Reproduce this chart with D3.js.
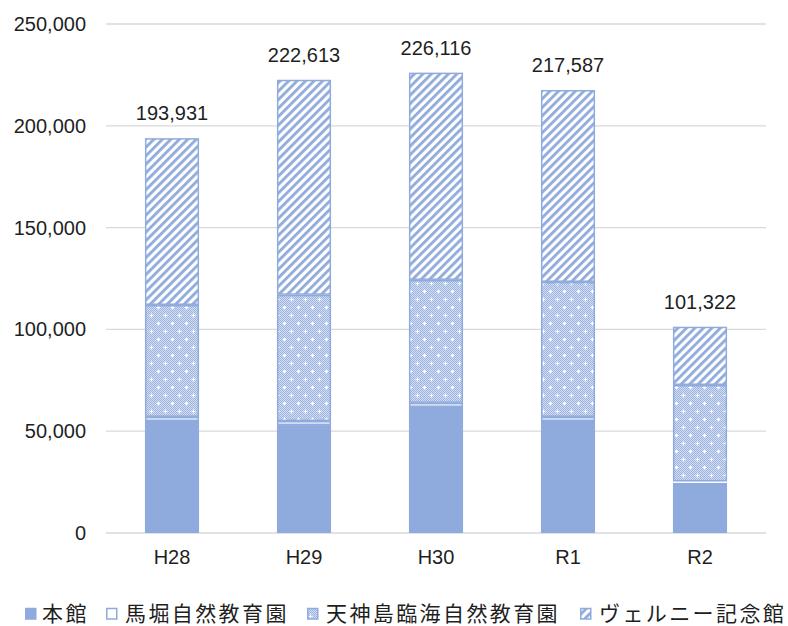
<!DOCTYPE html>
<html>
<head>
<meta charset="utf-8">
<script src="https://cdn.jsdelivr.net/npm/d3@7"></script>
<style>
  body { margin: 0; background: #fff; }
  svg text { font-family: "Liberation Sans", Arial, sans-serif; fill: #1f1f1f; }
  .legend text { font-family: "Noto Sans CJK JP", sans-serif; }
</style>
</head>
<body>
<svg id="chart" width="788" height="626"></svg>
<script>
// years and visitor counts per facility
const years = ['H28', 'H29', 'H30', 'R1', 'R2'];
const seriesNames = ['本館', '馬堀自然教育園', '天神島臨海自然教育園', 'ヴェルニー記念館'];
const honkan = [55000, 53000, 61900, 55000, 24600];
const mabori = [2000, 2000, 2000, 2000, 700];
const tenjin = [55000, 62000, 60400, 66300, 47400];
const totals = [193931, 222613, 226116, 217587, 101322];
// ヴェルニー記念館 = total minus the rest
const verny = totals.map((t, i) => t - honkan[i] - mabori[i] - tenjin[i]);
const yTicks = [0, 50000, 100000, 150000, 200000, 250000];

const svg = d3.select('#chart');
const margin = { top: 24, right: 22, bottom: 93, left: 106 };
const width = 788 - margin.left - margin.right;
const height = 626 - margin.top - margin.bottom;
const blue = '#8FAADC';

// patterns
const defs = svg.append('defs');
const stripes = defs.append('pattern').attr('id', 'stripes')
  .attr('patternUnits', 'userSpaceOnUse').attr('width', 6).attr('height', 6)
  .attr('patternTransform', 'rotate(45)');
stripes.append('rect').attr('width', 6).attr('height', 6).attr('fill', '#fff');
stripes.append('rect').attr('width', 2.8).attr('height', 6).attr('fill', blue);

const dots = defs.append('pattern').attr('id', 'dots')
  .attr('patternUnits', 'userSpaceOnUse').attr('width', 14).attr('height', 16);
dots.append('rect').attr('width', 14).attr('height', 16).attr('fill', '#D3DEF2');
for (let i = 0; i < 14; i++) {
  for (let j = 0; j < 16; j++) {
    if ((i + j) % 2 === 0) dots.append('rect').attr('x', i).attr('y', j).attr('width', 1).attr('height', 1).attr('fill', '#9DB4E0');
  }
}
dots.append('path').attr('d', 'M1.5,3.5h4M3.5,1.5v4M8.5,11.5h4M10.5,9.5v4').attr('stroke', '#fff').attr('stroke-width', 1.2);

const fills = [blue, '#fff', 'url(#dots)', 'url(#stripes)'];

const g = svg.append('g').attr('transform', `translate(${margin.left},${margin.top})`);

const x = d3.scaleBand().domain(years).range([0, width]).paddingInner(0.59).paddingOuter(0.295);
const y = d3.scaleLinear().domain([0, 250000]).range([height, 0]);

// gridlines
g.selectAll('.grid').data(yTicks).enter().append('line')
  .attr('x1', 0).attr('x2', width)
  .attr('y1', d => y(d)).attr('y2', d => y(d))
  .attr('stroke', '#D9D9D9').attr('stroke-width', 1.3);

// y axis
const yAxis = g.append('g').call(d3.axisLeft(y).tickValues(yTicks).tickFormat(d3.format(',')).tickSize(0).tickPadding(20));
yAxis.select('.domain').remove();
yAxis.selectAll('text').style('font-size', '20px').attr('fill', '#1f1f1f');

// x axis
const xAxis = g.append('g').attr('transform', `translate(0,${height})`)
  .call(d3.axisBottom(x).tickSize(0).tickPadding(17));
xAxis.select('.domain').remove();
xAxis.selectAll('text').style('font-size', '20px').attr('fill', '#1f1f1f');

// stacked bars
const rows = years.map((yr, i) => ({ year: yr, s0: honkan[i], s1: mabori[i], s2: tenjin[i], s3: verny[i] }));
const stack = d3.stack().keys(['s0', 's1', 's2', 's3'])(rows);

stack.forEach((layer, k) => {
  g.selectAll('.bar' + k).data(layer).enter().append('rect')
    .attr('x', d => x(d.data.year) + 0.75)
    .attr('width', x.bandwidth() - 1.5)
    .attr('y', d => y(d[1]) + 0.75)
    .attr('height', d => Math.max(0, y(d[0]) - y(d[1]) - 1.5))
    .attr('fill', fills[k])
    .attr('stroke', blue).attr('stroke-width', 1.5);
});

// totals
g.selectAll('.total').data(totals).enter().append('text')
  .attr('x', (d, i) => x(years[i]) + x.bandwidth() / 2)
  .attr('y', d => y(d) - 18)
  .attr('text-anchor', 'middle')
  .style('font-size', '20px')
  .text(d3.format(','));

// legend
const legend = svg.append('g').attr('class', 'legend').attr('transform', 'translate(0,613)');
const legendX = [25, 106, 307, 580];
seriesNames.forEach((name, k) => {
  const item = legend.append('g').attr('transform', `translate(${legendX[k]},0)`);
  item.append('rect').attr('x', 0.75).attr('y', -4.5).attr('width', 10).attr('height', 10.5)
    .attr('fill', fills[k]).attr('stroke', blue).attr('stroke-width', 1.5);
  item.append('text').attr('x', k === 0 ? 17 : 19).attr('y', 0).attr('dy', '0.36em')
    .style('font-size', '21px').style('letter-spacing', '2.4px').text(name);
});
</script>
</body>
</html>
